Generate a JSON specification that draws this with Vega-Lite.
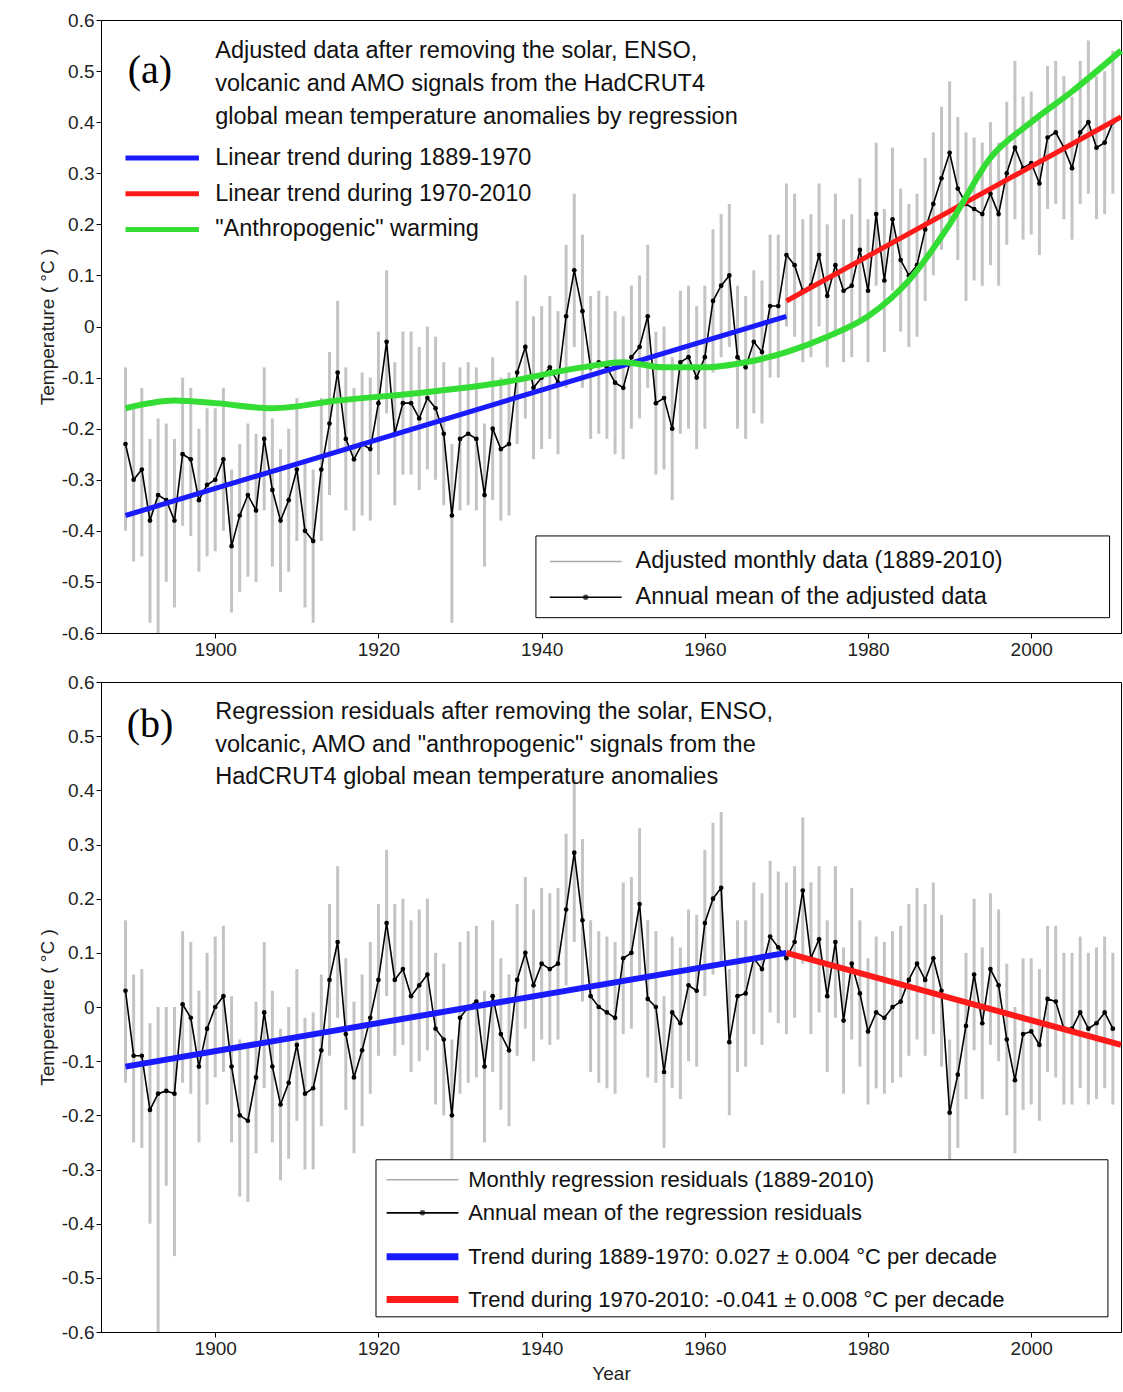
{
  "$schema": "https://vega.github.io/schema/vega-lite/v6.json",
  "background": "white",
  "padding": {"left": 37, "top": 10, "right": 2, "bottom": 4},
  "spacing": 12,
  "config": {
    "font": "Liberation Sans",
    "view": {"stroke": "black", "strokeWidth": 1},
    "axis": {"grid": false, "domainColor": "black", "tickColor": "black", "labelColor": "#222", "labelFontSize": 19, "titleFontSize": 19, "titleFontWeight": "normal", "titleColor": "#222", "tickSize": 5, "labelOverlap": false}
  },
  "datasets": {
    "ann": [
      {"yr":1889,"a":-0.23,"alo":-0.40,"ahi":-0.08,"b":0.03,"blo":-0.14,"bhi":0.16},
      {"yr":1890,"a":-0.30,"alo":-0.46,"ahi":-0.15,"b":-0.09,"blo":-0.25,"bhi":0.06},
      {"yr":1891,"a":-0.28,"alo":-0.45,"ahi":-0.12,"b":-0.09,"blo":-0.26,"bhi":0.07},
      {"yr":1892,"a":-0.38,"alo":-0.58,"ahi":-0.22,"b":-0.19,"blo":-0.40,"bhi":-0.03},
      {"yr":1893,"a":-0.33,"alo":-0.60,"ahi":-0.18,"b":-0.16,"blo":-0.60,"bhi":0.00},
      {"yr":1894,"a":-0.34,"alo":-0.50,"ahi":-0.19,"b":-0.155,"blo":-0.33,"bhi":0.00},
      {"yr":1895,"a":-0.38,"alo":-0.55,"ahi":-0.22,"b":-0.16,"blo":-0.46,"bhi":0.00},
      {"yr":1896,"a":-0.25,"alo":-0.39,"ahi":-0.10,"b":0.005,"blo":-0.14,"bhi":0.14},
      {"yr":1897,"a":-0.26,"alo":-0.41,"ahi":-0.12,"b":-0.02,"blo":-0.16,"bhi":0.12},
      {"yr":1898,"a":-0.34,"alo":-0.48,"ahi":-0.20,"b":-0.11,"blo":-0.25,"bhi":0.03},
      {"yr":1899,"a":-0.31,"alo":-0.45,"ahi":-0.16,"b":-0.04,"blo":-0.18,"bhi":0.10},
      {"yr":1900,"a":-0.30,"alo":-0.44,"ahi":-0.16,"b":0.00,"blo":-0.13,"bhi":0.13},
      {"yr":1901,"a":-0.26,"alo":-0.40,"ahi":-0.12,"b":0.02,"blo":-0.12,"bhi":0.15},
      {"yr":1902,"a":-0.43,"alo":-0.56,"ahi":-0.28,"b":-0.11,"blo":-0.25,"bhi":0.02},
      {"yr":1903,"a":-0.37,"alo":-0.52,"ahi":-0.23,"b":-0.20,"blo":-0.35,"bhi":-0.06},
      {"yr":1904,"a":-0.33,"alo":-0.49,"ahi":-0.19,"b":-0.21,"blo":-0.36,"bhi":-0.07},
      {"yr":1905,"a":-0.36,"alo":-0.50,"ahi":-0.21,"b":-0.13,"blo":-0.27,"bhi":0.01},
      {"yr":1906,"a":-0.22,"alo":-0.36,"ahi":-0.08,"b":-0.01,"blo":-0.15,"bhi":0.12},
      {"yr":1907,"a":-0.32,"alo":-0.47,"ahi":-0.18,"b":-0.11,"blo":-0.25,"bhi":0.03},
      {"yr":1908,"a":-0.38,"alo":-0.52,"ahi":-0.24,"b":-0.18,"blo":-0.32,"bhi":-0.04},
      {"yr":1909,"a":-0.34,"alo":-0.48,"ahi":-0.20,"b":-0.14,"blo":-0.28,"bhi":0.00},
      {"yr":1910,"a":-0.28,"alo":-0.42,"ahi":-0.14,"b":-0.07,"blo":-0.21,"bhi":0.07},
      {"yr":1911,"a":-0.40,"alo":-0.55,"ahi":-0.26,"b":-0.16,"blo":-0.30,"bhi":-0.02},
      {"yr":1912,"a":-0.42,"alo":-0.58,"ahi":-0.28,"b":-0.15,"blo":-0.30,"bhi":-0.01},
      {"yr":1913,"a":-0.28,"alo":-0.42,"ahi":-0.14,"b":-0.08,"blo":-0.22,"bhi":0.06},
      {"yr":1914,"a":-0.19,"alo":-0.33,"ahi":-0.05,"b":0.05,"blo":-0.09,"bhi":0.19},
      {"yr":1915,"a":-0.09,"alo":-0.24,"ahi":0.05,"b":0.12,"blo":-0.02,"bhi":0.26},
      {"yr":1916,"a":-0.22,"alo":-0.36,"ahi":-0.08,"b":-0.05,"blo":-0.19,"bhi":0.09},
      {"yr":1917,"a":-0.26,"alo":-0.40,"ahi":-0.12,"b":-0.13,"blo":-0.27,"bhi":0.01},
      {"yr":1918,"a":-0.23,"alo":-0.37,"ahi":-0.09,"b":-0.08,"blo":-0.22,"bhi":0.06},
      {"yr":1919,"a":-0.24,"alo":-0.38,"ahi":-0.10,"b":-0.02,"blo":-0.16,"bhi":0.12},
      {"yr":1920,"a":-0.15,"alo":-0.29,"ahi":-0.01,"b":0.05,"blo":-0.09,"bhi":0.19},
      {"yr":1921,"a":-0.03,"alo":-0.17,"ahi":0.11,"b":0.155,"blo":0.02,"bhi":0.29},
      {"yr":1922,"a":-0.21,"alo":-0.35,"ahi":-0.07,"b":0.05,"blo":-0.09,"bhi":0.19},
      {"yr":1923,"a":-0.15,"alo":-0.29,"ahi":-0.01,"b":0.07,"blo":-0.07,"bhi":0.20},
      {"yr":1924,"a":-0.15,"alo":-0.29,"ahi":-0.01,"b":0.02,"blo":-0.12,"bhi":0.16},
      {"yr":1925,"a":-0.18,"alo":-0.32,"ahi":-0.04,"b":0.04,"blo":-0.10,"bhi":0.18},
      {"yr":1926,"a":-0.14,"alo":-0.28,"ahi":0.00,"b":0.06,"blo":-0.08,"bhi":0.20},
      {"yr":1927,"a":-0.16,"alo":-0.30,"ahi":-0.02,"b":-0.04,"blo":-0.18,"bhi":0.10},
      {"yr":1928,"a":-0.21,"alo":-0.35,"ahi":-0.07,"b":-0.06,"blo":-0.20,"bhi":0.08},
      {"yr":1929,"a":-0.37,"alo":-0.58,"ahi":-0.23,"b":-0.20,"blo":-0.36,"bhi":-0.06},
      {"yr":1930,"a":-0.22,"alo":-0.36,"ahi":-0.08,"b":-0.02,"blo":-0.16,"bhi":0.12},
      {"yr":1931,"a":-0.21,"alo":-0.35,"ahi":-0.07,"b":0.00,"blo":-0.14,"bhi":0.14},
      {"yr":1932,"a":-0.22,"alo":-0.36,"ahi":-0.08,"b":0.01,"blo":-0.13,"bhi":0.15},
      {"yr":1933,"a":-0.33,"alo":-0.47,"ahi":-0.19,"b":-0.11,"blo":-0.25,"bhi":0.03},
      {"yr":1934,"a":-0.20,"alo":-0.34,"ahi":-0.06,"b":0.02,"blo":-0.12,"bhi":0.16},
      {"yr":1935,"a":-0.24,"alo":-0.38,"ahi":-0.10,"b":-0.05,"blo":-0.19,"bhi":0.09},
      {"yr":1936,"a":-0.23,"alo":-0.37,"ahi":-0.09,"b":-0.08,"blo":-0.22,"bhi":0.06},
      {"yr":1937,"a":-0.09,"alo":-0.23,"ahi":0.05,"b":0.05,"blo":-0.09,"bhi":0.19},
      {"yr":1938,"a":-0.04,"alo":-0.18,"ahi":0.10,"b":0.10,"blo":-0.04,"bhi":0.24},
      {"yr":1939,"a":-0.12,"alo":-0.26,"ahi":0.02,"b":0.04,"blo":-0.10,"bhi":0.18},
      {"yr":1940,"a":-0.10,"alo":-0.24,"ahi":0.04,"b":0.08,"blo":-0.06,"bhi":0.22},
      {"yr":1941,"a":-0.08,"alo":-0.22,"ahi":0.06,"b":0.07,"blo":-0.07,"bhi":0.21},
      {"yr":1942,"a":-0.11,"alo":-0.25,"ahi":0.03,"b":0.08,"blo":-0.06,"bhi":0.22},
      {"yr":1943,"a":0.02,"alo":-0.12,"ahi":0.16,"b":0.18,"blo":0.04,"bhi":0.32},
      {"yr":1944,"a":0.11,"alo":-0.04,"ahi":0.26,"b":0.285,"blo":0.12,"bhi":0.42},
      {"yr":1945,"a":0.03,"alo":-0.12,"ahi":0.18,"b":0.16,"blo":0.01,"bhi":0.31},
      {"yr":1946,"a":-0.08,"alo":-0.22,"ahi":0.06,"b":0.02,"blo":-0.12,"bhi":0.16},
      {"yr":1947,"a":-0.07,"alo":-0.21,"ahi":0.07,"b":0.00,"blo":-0.14,"bhi":0.14},
      {"yr":1948,"a":-0.08,"alo":-0.22,"ahi":0.06,"b":-0.01,"blo":-0.15,"bhi":0.13},
      {"yr":1949,"a":-0.11,"alo":-0.25,"ahi":0.03,"b":-0.02,"blo":-0.16,"bhi":0.12},
      {"yr":1950,"a":-0.12,"alo":-0.26,"ahi":0.02,"b":0.09,"blo":-0.05,"bhi":0.23},
      {"yr":1951,"a":-0.06,"alo":-0.20,"ahi":0.08,"b":0.10,"blo":-0.04,"bhi":0.24},
      {"yr":1952,"a":-0.04,"alo":-0.18,"ahi":0.10,"b":0.19,"blo":0.05,"bhi":0.33},
      {"yr":1953,"a":0.02,"alo":-0.12,"ahi":0.16,"b":0.015,"blo":-0.13,"bhi":0.16},
      {"yr":1954,"a":-0.15,"alo":-0.29,"ahi":-0.01,"b":0.00,"blo":-0.14,"bhi":0.14},
      {"yr":1955,"a":-0.14,"alo":-0.28,"ahi":0.00,"b":-0.12,"blo":-0.26,"bhi":0.02},
      {"yr":1956,"a":-0.20,"alo":-0.34,"ahi":-0.06,"b":-0.01,"blo":-0.15,"bhi":0.13},
      {"yr":1957,"a":-0.07,"alo":-0.21,"ahi":0.07,"b":-0.03,"blo":-0.17,"bhi":0.11},
      {"yr":1958,"a":-0.06,"alo":-0.20,"ahi":0.08,"b":0.04,"blo":-0.10,"bhi":0.18},
      {"yr":1959,"a":-0.10,"alo":-0.24,"ahi":0.04,"b":0.03,"blo":-0.11,"bhi":0.17},
      {"yr":1960,"a":-0.06,"alo":-0.20,"ahi":0.08,"b":0.155,"blo":0.02,"bhi":0.29},
      {"yr":1961,"a":0.05,"alo":-0.09,"ahi":0.19,"b":0.20,"blo":0.06,"bhi":0.34},
      {"yr":1962,"a":0.08,"alo":-0.06,"ahi":0.22,"b":0.22,"blo":0.08,"bhi":0.36},
      {"yr":1963,"a":0.10,"alo":-0.04,"ahi":0.24,"b":-0.065,"blo":-0.20,"bhi":0.07},
      {"yr":1964,"a":-0.06,"alo":-0.20,"ahi":0.08,"b":0.02,"blo":-0.12,"bhi":0.16},
      {"yr":1965,"a":-0.08,"alo":-0.22,"ahi":0.06,"b":0.025,"blo":-0.11,"bhi":0.16},
      {"yr":1966,"a":-0.03,"alo":-0.17,"ahi":0.11,"b":0.09,"blo":-0.05,"bhi":0.23},
      {"yr":1967,"a":-0.05,"alo":-0.19,"ahi":0.09,"b":0.07,"blo":-0.07,"bhi":0.21},
      {"yr":1968,"a":0.04,"alo":-0.10,"ahi":0.18,"b":0.13,"blo":-0.01,"bhi":0.27},
      {"yr":1969,"a":0.04,"alo":-0.10,"ahi":0.18,"b":0.11,"blo":-0.03,"bhi":0.25},
      {"yr":1970,"a":0.14,"alo":0.00,"ahi":0.28,"b":0.09,"blo":-0.05,"bhi":0.23},
      {"yr":1971,"a":0.12,"alo":-0.02,"ahi":0.26,"b":0.12,"blo":-0.02,"bhi":0.26},
      {"yr":1972,"a":0.07,"alo":-0.07,"ahi":0.21,"b":0.215,"blo":0.08,"bhi":0.35},
      {"yr":1973,"a":0.08,"alo":-0.06,"ahi":0.22,"b":0.09,"blo":-0.05,"bhi":0.23},
      {"yr":1974,"a":0.14,"alo":0.00,"ahi":0.28,"b":0.125,"blo":-0.01,"bhi":0.26},
      {"yr":1975,"a":0.06,"alo":-0.08,"ahi":0.20,"b":0.02,"blo":-0.12,"bhi":0.16},
      {"yr":1976,"a":0.12,"alo":-0.02,"ahi":0.26,"b":0.12,"blo":-0.02,"bhi":0.26},
      {"yr":1977,"a":0.07,"alo":-0.07,"ahi":0.21,"b":-0.025,"blo":-0.16,"bhi":0.11},
      {"yr":1978,"a":0.08,"alo":-0.06,"ahi":0.22,"b":0.08,"blo":-0.06,"bhi":0.22},
      {"yr":1979,"a":0.15,"alo":0.01,"ahi":0.29,"b":0.025,"blo":-0.11,"bhi":0.16},
      {"yr":1980,"a":0.07,"alo":-0.07,"ahi":0.21,"b":-0.045,"blo":-0.18,"bhi":0.09},
      {"yr":1981,"a":0.22,"alo":0.08,"ahi":0.36,"b":-0.01,"blo":-0.15,"bhi":0.13},
      {"yr":1982,"a":0.09,"alo":-0.05,"ahi":0.23,"b":-0.02,"blo":-0.16,"bhi":0.12},
      {"yr":1983,"a":0.21,"alo":0.07,"ahi":0.35,"b":0.00,"blo":-0.14,"bhi":0.14},
      {"yr":1984,"a":0.13,"alo":-0.01,"ahi":0.27,"b":0.01,"blo":-0.13,"bhi":0.15},
      {"yr":1985,"a":0.10,"alo":-0.04,"ahi":0.24,"b":0.05,"blo":-0.09,"bhi":0.19},
      {"yr":1986,"a":0.12,"alo":-0.02,"ahi":0.26,"b":0.08,"blo":-0.06,"bhi":0.22},
      {"yr":1987,"a":0.19,"alo":0.05,"ahi":0.33,"b":0.05,"blo":-0.09,"bhi":0.19},
      {"yr":1988,"a":0.24,"alo":0.10,"ahi":0.38,"b":0.09,"blo":-0.05,"bhi":0.23},
      {"yr":1989,"a":0.29,"alo":0.15,"ahi":0.43,"b":0.03,"blo":-0.11,"bhi":0.17},
      {"yr":1990,"a":0.34,"alo":0.20,"ahi":0.48,"b":-0.195,"blo":-0.33,"bhi":-0.06},
      {"yr":1991,"a":0.27,"alo":0.13,"ahi":0.41,"b":-0.125,"blo":-0.26,"bhi":0.01},
      {"yr":1992,"a":0.24,"alo":0.05,"ahi":0.38,"b":-0.035,"blo":-0.17,"bhi":0.10},
      {"yr":1993,"a":0.23,"alo":0.09,"ahi":0.37,"b":0.06,"blo":-0.08,"bhi":0.20},
      {"yr":1994,"a":0.22,"alo":0.08,"ahi":0.36,"b":-0.03,"blo":-0.17,"bhi":0.11},
      {"yr":1995,"a":0.26,"alo":0.12,"ahi":0.40,"b":0.07,"blo":-0.07,"bhi":0.21},
      {"yr":1996,"a":0.22,"alo":0.08,"ahi":0.36,"b":0.04,"blo":-0.10,"bhi":0.18},
      {"yr":1997,"a":0.30,"alo":0.16,"ahi":0.44,"b":-0.06,"blo":-0.20,"bhi":0.08},
      {"yr":1998,"a":0.35,"alo":0.21,"ahi":0.52,"b":-0.135,"blo":-0.27,"bhi":0.00},
      {"yr":1999,"a":0.31,"alo":0.17,"ahi":0.45,"b":-0.05,"blo":-0.19,"bhi":0.09},
      {"yr":2000,"a":0.32,"alo":0.18,"ahi":0.46,"b":-0.045,"blo":-0.18,"bhi":0.09},
      {"yr":2001,"a":0.28,"alo":0.14,"ahi":0.42,"b":-0.07,"blo":-0.21,"bhi":0.07},
      {"yr":2002,"a":0.37,"alo":0.23,"ahi":0.51,"b":0.015,"blo":-0.12,"bhi":0.15},
      {"yr":2003,"a":0.38,"alo":0.24,"ahi":0.52,"b":0.01,"blo":-0.13,"bhi":0.15},
      {"yr":2004,"a":0.35,"alo":0.21,"ahi":0.49,"b":-0.04,"blo":-0.18,"bhi":0.10},
      {"yr":2005,"a":0.31,"alo":0.17,"ahi":0.45,"b":-0.04,"blo":-0.18,"bhi":0.10},
      {"yr":2006,"a":0.38,"alo":0.24,"ahi":0.52,"b":-0.01,"blo":-0.15,"bhi":0.13},
      {"yr":2007,"a":0.40,"alo":0.26,"ahi":0.56,"b":-0.04,"blo":-0.18,"bhi":0.10},
      {"yr":2008,"a":0.35,"alo":0.21,"ahi":0.49,"b":-0.03,"blo":-0.17,"bhi":0.11},
      {"yr":2009,"a":0.36,"alo":0.22,"ahi":0.50,"b":-0.01,"blo":-0.15,"bhi":0.13},
      {"yr":2010,"a":0.40,"alo":0.26,"ahi":0.54,"b":-0.04,"blo":-0.18,"bhi":0.10}
    ],
    "green": [
      {"yr":1889,"v":-0.16},{"yr":1895,"v":-0.145},{"yr":1900,"v":-0.15},{"yr":1907,"v":-0.16},
      {"yr":1915,"v":-0.145},{"yr":1925,"v":-0.13},{"yr":1935,"v":-0.11},{"yr":1945,"v":-0.08},
      {"yr":1950,"v":-0.07},{"yr":1955,"v":-0.08},{"yr":1960,"v":-0.08},{"yr":1965,"v":-0.07},
      {"yr":1970,"v":-0.05},{"yr":1975,"v":-0.02},{"yr":1980,"v":0.02},{"yr":1985,"v":0.09},
      {"yr":1990,"v":0.2},{"yr":1995,"v":0.33},{"yr":2000,"v":0.4},{"yr":2005,"v":0.46},{"yr":2011,"v":0.54}
    ],
    "trendA": [
      {"yr":1889,"v":-0.37,"s":"blue"},{"yr":1970,"v":0.02,"s":"blue"},
      {"yr":1970,"v":0.05,"s":"red"},{"yr":2011,"v":0.41,"s":"red"}
    ],
    "trendB": [
      {"yr":1889,"v":-0.11,"s":"blue"},{"yr":1970,"v":0.10,"s":"blue"},
      {"yr":1970,"v":0.10,"s":"red"},{"yr":2011,"v":-0.07,"s":"red"}
    ],
    "keyA": [
      {"x1":1889,"x2":1898,"y":0.33,"c":"#1a1aff","t":"Linear trend during 1889-1970"},
      {"x1":1889,"x2":1898,"y":0.26,"c":"#ff1a1a","t":"Linear trend during 1970-2010"},
      {"x1":1889,"x2":1898,"y":0.19,"c":"#33dd33","t":"\"Anthropogenic\" warming"}
    ],
    "keyB": [
      {"x1":1921,"x2":1929.8,"y":-0.461,"c":"#1a1aff"},
      {"x1":1921,"x2":1929.8,"y":-0.54,"c":"#ff1a1a"}
    ]
  },
  "vconcat": [
    {
      "width": 1020, "height": 613,
      "layer": [
        {
          "data": {"name": "ann"},
          "mark": {"type": "rule", "color": "#b5b5b5", "strokeWidth": 3, "opacity": 0.8},
          "encoding": {
            "x": {"field": "yr", "type": "quantitative", "scale": {"domain": [1886, 2011], "nice": false, "zero": false}, "axis": {"values": [1900,1920,1940,1960,1980,2000], "format": "d", "title": null}},
            "y": {"field": "alo", "type": "quantitative", "scale": {"domain": [-0.6, 0.6], "nice": false}, "axis": {"values": [-0.6,-0.5,-0.4,-0.3,-0.2,-0.1,0,0.1,0.2,0.3,0.4,0.5,0.6], "labelExpr": "datum.value == 0 ? '0' : replace(format(datum.value, '.1f'), '−', '-')", "title": "Temperature ( °C )"}},
            "y2": {"field": "ahi"}
          }
        },
        {
          "data": {"name": "ann"},
          "mark": {"type": "line", "color": "black", "strokeWidth": 1.6, "point": {"color": "black", "size": 22}},
          "encoding": {"x": {"field": "yr", "type": "quantitative"}, "y": {"field": "a", "type": "quantitative"}}
        },
        {
          "data": {"name": "trendA"},
          "mark": {"type": "line", "strokeWidth": 5},
          "encoding": {"x": {"field": "yr", "type": "quantitative"}, "y": {"field": "v", "type": "quantitative"}, "detail": {"field": "s"},
            "color": {"field": "s", "type": "nominal", "scale": {"domain": ["blue","red"], "range": ["#1a1aff","#ff1a1a"]}, "legend": null}}
        },
        {
          "data": {"name": "green"},
          "mark": {"type": "line", "color": "#33dd33", "strokeWidth": 6, "interpolate": "monotone"},
          "encoding": {"x": {"field": "yr", "type": "quantitative"}, "y": {"field": "v", "type": "quantitative"}}
        },
        {
          "data": {"values": [{"x":1892,"y":0.5,"t":"(a)"}]},
          "mark": {"type": "text", "font": "Liberation Serif", "fontSize": 40, "align": "center", "baseline": "middle"},
          "encoding": {"x": {"field": "x", "type": "quantitative"}, "y": {"field": "y", "type": "quantitative"}, "text": {"field": "t"}}
        },
        {
          "data": {"values": [
            {"x":1900,"y":0.54,"t":"Adjusted data after removing the solar, ENSO,"},
            {"x":1900,"y":0.475,"t":"volcanic and AMO signals from the HadCRUT4"},
            {"x":1900,"y":0.41,"t":"global mean temperature anomalies by regression"}
          ]},
          "mark": {"type": "text", "fontSize": 23.5, "align": "left", "baseline": "middle", "color": "#111"},
          "encoding": {"x": {"field": "x", "type": "quantitative"}, "y": {"field": "y", "type": "quantitative"}, "text": {"field": "t"}}
        },
        {
          "data": {"name": "keyA"},
          "mark": {"type": "rule", "strokeWidth": 5},
          "encoding": {"x": {"field": "x1", "type": "quantitative"}, "x2": {"field": "x2"}, "y": {"field": "y", "type": "quantitative"}, "color": {"field": "c", "type": "nominal", "scale": null}}
        },
        {
          "data": {"name": "keyA"},
          "mark": {"type": "text", "fontSize": 23.5, "align": "left", "baseline": "middle", "color": "#111"},
          "encoding": {"x": {"datum": 1900}, "y": {"field": "y", "type": "quantitative"}, "text": {"field": "t"}}
        },
        {
          "data": {"values": [{"x1":1939.3,"x2":2009.6,"y1":-0.41,"y2":-0.57}]},
          "mark": {"type": "rect", "fill": "white", "stroke": "black", "strokeWidth": 1},
          "encoding": {"x": {"field": "x1", "type": "quantitative"}, "x2": {"field": "x2"}, "y": {"field": "y1", "type": "quantitative"}, "y2": {"field": "y2"}}
        },
        {
          "data": {"values": [{"x1":1941,"x2":1949.8,"y":-0.46,"c":"#aaaaaa","w":1.5},{"x1":1941,"x2":1949.8,"y":-0.53,"c":"black","w":1.6}]},
          "mark": {"type": "rule"},
          "encoding": {"x": {"field": "x1", "type": "quantitative"}, "x2": {"field": "x2"}, "y": {"field": "y", "type": "quantitative"}, "color": {"field": "c", "type": "nominal", "scale": null}, "strokeWidth": {"field": "w", "type": "quantitative", "scale": null}}
        },
        {
          "data": {"values": [{"x":1945.4,"y":-0.53}]},
          "mark": {"type": "point", "filled": true, "color": "black", "size": 30},
          "encoding": {"x": {"field": "x", "type": "quantitative"}, "y": {"field": "y", "type": "quantitative"}}
        },
        {
          "data": {"values": [{"y":-0.46,"t":"Adjusted monthly data (1889-2010)"},{"y":-0.53,"t":"Annual mean of the adjusted data"}]},
          "mark": {"type": "text", "fontSize": 23.5, "align": "left", "baseline": "middle", "color": "#111"},
          "encoding": {"x": {"datum": 1951.5}, "y": {"field": "y", "type": "quantitative"}, "text": {"field": "t"}}
        }
      ]
    },
    {
      "width": 1020, "height": 650,
      "layer": [
        {
          "data": {"name": "ann"},
          "mark": {"type": "rule", "color": "#b5b5b5", "strokeWidth": 3, "opacity": 0.8},
          "encoding": {
            "x": {"field": "yr", "type": "quantitative", "scale": {"domain": [1886, 2011], "nice": false, "zero": false}, "axis": {"values": [1900,1920,1940,1960,1980,2000], "format": "d", "title": "Year", "titlePadding": 6}},
            "y": {"field": "blo", "type": "quantitative", "scale": {"domain": [-0.6, 0.6], "nice": false}, "axis": {"values": [-0.6,-0.5,-0.4,-0.3,-0.2,-0.1,0,0.1,0.2,0.3,0.4,0.5,0.6], "labelExpr": "datum.value == 0 ? '0' : replace(format(datum.value, '.1f'), '−', '-')", "title": "Temperature ( °C )"}},
            "y2": {"field": "bhi"}
          }
        },
        {
          "data": {"name": "ann"},
          "mark": {"type": "line", "color": "black", "strokeWidth": 1.6, "point": {"color": "black", "size": 22}},
          "encoding": {"x": {"field": "yr", "type": "quantitative"}, "y": {"field": "b", "type": "quantitative"}}
        },
        {
          "data": {"name": "trendB"},
          "mark": {"type": "line", "strokeWidth": 6},
          "encoding": {"x": {"field": "yr", "type": "quantitative"}, "y": {"field": "v", "type": "quantitative"}, "detail": {"field": "s"},
            "color": {"field": "s", "type": "nominal", "scale": {"domain": ["blue","red"], "range": ["#1a1aff","#ff1a1a"]}, "legend": null}}
        },
        {
          "data": {"values": [{"x":1892,"y":0.52,"t":"(b)"}]},
          "mark": {"type": "text", "font": "Liberation Serif", "fontSize": 40, "align": "center", "baseline": "middle"},
          "encoding": {"x": {"field": "x", "type": "quantitative"}, "y": {"field": "y", "type": "quantitative"}, "text": {"field": "t"}}
        },
        {
          "data": {"values": [
            {"x":1900,"y":0.544,"t":"Regression residuals after removing the solar, ENSO,"},
            {"x":1900,"y":0.483,"t":"volcanic, AMO and \"anthropogenic\" signals from the"},
            {"x":1900,"y":0.424,"t":"HadCRUT4 global mean temperature anomalies"}
          ]},
          "mark": {"type": "text", "fontSize": 23.5, "align": "left", "baseline": "middle", "color": "#111"},
          "encoding": {"x": {"field": "x", "type": "quantitative"}, "y": {"field": "y", "type": "quantitative"}, "text": {"field": "t"}}
        },
        {
          "data": {"values": [{"x1":1919.7,"x2":2009.4,"y1":-0.282,"y2":-0.572}]},
          "mark": {"type": "rect", "fill": "white", "stroke": "black", "strokeWidth": 1},
          "encoding": {"x": {"field": "x1", "type": "quantitative"}, "x2": {"field": "x2"}, "y": {"field": "y1", "type": "quantitative"}, "y2": {"field": "y2"}}
        },
        {
          "data": {"values": [{"x1":1921,"x2":1929.8,"y":-0.319,"c":"#aaaaaa","w":1.5},{"x1":1921,"x2":1929.8,"y":-0.38,"c":"black","w":1.6}]},
          "mark": {"type": "rule"},
          "encoding": {"x": {"field": "x1", "type": "quantitative"}, "x2": {"field": "x2"}, "y": {"field": "y", "type": "quantitative"}, "color": {"field": "c", "type": "nominal", "scale": null}, "strokeWidth": {"field": "w", "type": "quantitative", "scale": null}}
        },
        {
          "data": {"values": [{"x":1925.4,"y":-0.38}]},
          "mark": {"type": "point", "filled": true, "color": "black", "size": 30},
          "encoding": {"x": {"field": "x", "type": "quantitative"}, "y": {"field": "y", "type": "quantitative"}}
        },
        {
          "data": {"name": "keyB"},
          "mark": {"type": "rule", "strokeWidth": 7},
          "encoding": {"x": {"field": "x1", "type": "quantitative"}, "x2": {"field": "x2"}, "y": {"field": "y", "type": "quantitative"}, "color": {"field": "c", "type": "nominal", "scale": null}}
        },
        {
          "data": {"values": [
            {"y":-0.319,"t":"Monthly regression residuals (1889-2010)"},
            {"y":-0.38,"t":"Annual mean of the regression residuals"},
            {"y":-0.461,"t":"Trend during 1889-1970:   0.027 ± 0.004 °C per decade"},
            {"y":-0.54,"t":"Trend during 1970-2010:  -0.041 ± 0.008 °C per decade"}
          ]},
          "mark": {"type": "text", "fontSize": 22, "align": "left", "baseline": "middle", "color": "#111"},
          "encoding": {"x": {"datum": 1931}, "y": {"field": "y", "type": "quantitative"}, "text": {"field": "t"}}
        }
      ]
    }
  ]
}
